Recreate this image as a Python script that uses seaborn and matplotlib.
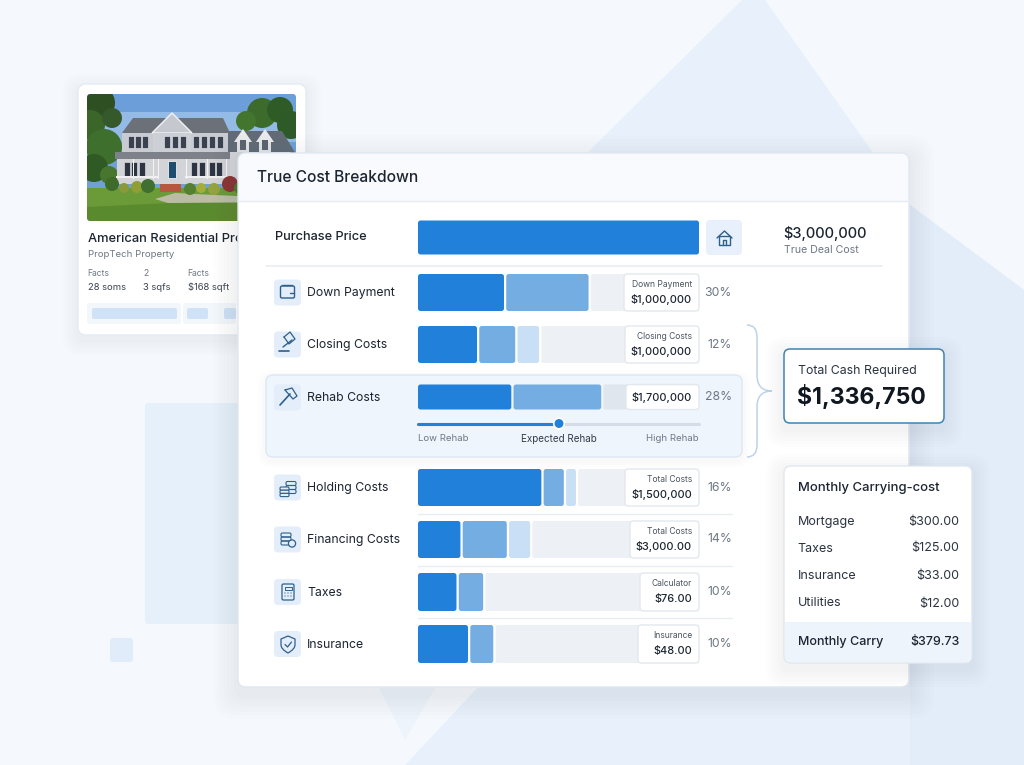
import numpy as np
import matplotlib
matplotlib.use("Agg")
import matplotlib.pyplot as plt
from matplotlib.patches import FancyBboxPatch, Polygon, Circle, Rectangle, PathPatch
from matplotlib.path import Path
import seaborn as sns

# values
categorias = ["Purchase Price", "Down Payment", "Closing Costs", "Rehab Costs",
              "Holding Costs", "Financing Costs", "Taxes", "Insurance"]
seg_oscuro = [100, 30.6, 21, 33.2, 43.9, 15.1, 13.7, 17.8]
seg_medio = [0, 30.1, 13.6, 32, 8, 16.5, 9.5, 9]
seg_claro = [0, 0, 8.5, 0, 4.3, 8.3, 0, 0]
resto = [0, 39.3, 56.9, 34.8, 43.8, 60.1, 76.8, 73.2]
captions = [None, "Down Payment", "Closing Costs", None, "Total Costs", "Total Costs", "Calculator", "Insurance"]
importes = [None, "$1,000,000", "$1,000,000", "$1,700,000", "$1,500,000", "$3,000.00", "$76.00", "$48.00"]
porcentajes = [None, "30%", "12%", "28%", "16%", "14%", "10%", "10%"]
slider_labels = ["Low Rehab", "Expected Rehab", "High Rehab"]
slider_valor = 50
mensual_items = ["Mortgage", "Taxes", "Insurance", "Utilities"]
mensual_valores = ["$300.00", "$125.00", "$33.00", "$12.00"]
hechos_titulo = ["Facts", "2", "Facts"]
hechos_valor = ["28 soms", "3 sqfs", "$168 sqft"]

# layout in pixels
fila_y = [237.5, 292.5, 344.5, 397, 487.5, 539.5, 592, 644]
fila_h = [34, 37, 37, 25, 37, 37, 38, 38]
caja_x = [None, 624, 625, 626, 625, 630, 640, 638]
X0, X1 = 418, 699
ESCALA = (X1 - X0) / 100

AZUL = "#2080da"
MEDIO = "#74ade2"
CLARO = "#c9dff5"
GRIS = "#edf0f4"
TINTA = "#1b2430"
GRIS_TXT = "#6d7784"
ICONO = "#2f5f8c"

sns.set_theme(style="white")
plt.rcParams["font.family"] = ["Inter", "DejaVu Sans"]

fig = plt.figure(figsize=(10.24, 7.65), dpi=100, facecolor="#f5f9fd")


def capa(zorder, pos=(0, 0, 1, 1)):
    a = fig.add_axes(pos, zorder=zorder)
    a.set_xlim(0, 1024)
    a.set_ylim(765, 0)
    a.axis("off")
    a.patch.set_alpha(0)
    return a


def caja(a, x0, y0, x1, y1, fc="white", ec="none", lw=1, r=6, z=2, **kw):
    p = FancyBboxPatch((x0, y0), x1 - x0, y1 - y0, boxstyle=f"round,pad=0,rounding_size={r}",
                       fc=fc, ec=ec, lw=lw, zorder=z, **kw)
    a.add_patch(p)
    return p


def sombra(a, x0, y0, x1, y1, r=8, z=1, dy=5, pasos=6, paso=3):
    # few steps with a neutral colour, very low alpha rounds into a coloured tint
    for s in range(pasos, 0, -1):
        caja(a, x0 - s * paso, y0 - s * paso + dy, x1 + s * paso, y1 + s * paso + dy,
             fc="#5b6b80", r=r + s * 2, z=z, alpha=0.011)


def linea(a, xs, ys, color=ICONO, lw=1.0, z=5):
    a.plot(xs, ys, color=color, lw=lw, zorder=z, solid_capstyle="round", solid_joinstyle="round")


fondo = capa(0)
# background shapes
fondo.add_patch(Polygon([(585, 155), (742, 0), (765, 0), (910, 205), (1024, 290), (1024, 765),
                         (405, 765), (560, 600), (600, 300)], fc="#e8f1fb", ec="none"))
fondo.add_patch(Polygon([(910, 205), (1024, 290), (1024, 765), (910, 765)], fc="#e2edf9", ec="none"))
fondo.add_patch(Polygon([(375, 680), (440, 680), (405, 740)], fc="#edf4fb", ec="none"))
caja(fondo, 145, 403, 260, 624, fc="#e6f0fb", r=3, z=1)
caja(fondo, 110, 638, 133, 662, fc="#e0ecfa", r=3, z=1)

# property card
sombra(fondo, 78, 84, 306, 335, z=2, pasos=5)
caja(fondo, 78, 84, 306, 335, fc="white", ec="#e4ebf3", r=8, z=3)
foto = FancyBboxPatch((87, 94), 209, 127, boxstyle="round,pad=0,rounding_size=4", fc="#6fa0d8", ec="none", zorder=4)
fondo.add_patch(foto)


def f(artist):
    artist.set_clip_path(foto)
    artist.set_zorder(5)
    fondo.add_patch(artist)


f(Rectangle((87, 94), 209, 18, fc="#6c9fd9", ec="none"))
f(Rectangle((87, 112), 209, 30, fc="#93bbe6", ec="none"))
f(Rectangle((87, 188), 209, 33, fc="#6b9a38", ec="none"))
f(Polygon([(87, 221), (87, 207), (170, 203), (296, 200), (296, 221)], fc="#5a8a2e", ec="none"))
f(Polygon([(155, 199), (175, 193), (296, 199), (296, 202), (168, 203)], fc="#bcbca6", ec="none"))
for cx, cy, rad, col in [(262, 113, 15, "#3c6b2c"), (280, 110, 13, "#2f5c26"), (291, 125, 14, "#2d5a27"),
                         (246, 121, 10, "#44752f"), (98, 103, 17, "#2e4f22"), (90, 125, 15, "#3b6629"),
                         (104, 147, 18, "#3e6f2c"), (94, 168, 14, "#2f5a24"), (112, 118, 10, "#35592a"),
                         (109, 175, 9, "#47762f")]:
    f(Circle((cx, cy), rad, fc=col, ec="none"))
f(Polygon([(223, 131), (282, 131), (296, 154), (228, 154)], fc="#626a75", ec="none"))
f(Rectangle((228, 152), 62, 33, fc="#d6d8dc", ec="none"))
f(Polygon([(122, 133), (133, 118), (223, 118), (230, 133)], fc="#6b7079", ec="none"))
f(Rectangle((122, 133), 106, 19, fc="#c8ccd2", ec="none"))
f(Polygon([(152, 133), (172, 113), (192, 133)], fc="#c5c9cf", ec="#f2f2f2", lw=1))
f(Rectangle((153, 133), 38, 19, fc="#ccd0d6", ec="none"))
f(Rectangle((115, 152), 115, 7, fc="#7d828a", ec="none"))
f(Rectangle((117, 159), 113, 25, fc="#d2d4d8", ec="none"))
for wx in [128, 135, 142, 164, 172, 180, 193, 201, 209, 217]:
    f(Rectangle((wx, 136), 5.5, 12, fc="#3a4252", ec="#f0f0f0", lw=0.4))
for wx in [124, 131, 139, 191, 199, 209, 216]:
    f(Rectangle((wx, 162), 6, 14, fc="#2d3442", ec="#f0f0f0", lw=0.4))
f(Rectangle((168, 161), 8, 17, fc="#1f4d70", ec="#f0f0f0", lw=0.6))
for colx in [133, 153, 158, 186, 207, 226]:
    f(Rectangle((colx, 159), 1.4, 20, fc="#f4f4f4", ec="none"))
f(Rectangle((116, 176), 43, 1.6, fc="#f0f0f0", ec="none"))
f(Rectangle((185, 176), 44, 1.6, fc="#f0f0f0", ec="none"))
for dx in [243, 265]:
    f(Polygon([(dx - 9, 142), (dx, 129), (dx + 9, 142)], fc="#e9eaec", ec="none"))
    f(Rectangle((dx - 6, 142), 12, 10, fc="#e4e5e7", ec="none"))
    f(Rectangle((dx - 3, 140), 6, 10, fc="#5a6270", ec="none"))
f(Rectangle((160, 184), 21, 8, fc="#b5583f", ec="none"))
for sx, sy, sr, col in [(112, 184, 7, "#3e6a2a"), (124, 188, 5, "#8a9a3a"), (137, 187, 6, "#8f9f33"),
                        (148, 186, 7, "#3f7030"), (190, 189, 6, "#55802f"), (201, 188, 5, "#a4ad3a"),
                        (214, 189, 6, "#94a33c"), (230, 184, 8, "#8a3434"), (240, 188, 6, "#4a7a30")]:
    f(Circle((sx, sy), sr, fc=col, ec="none"))

fondo.text(87.5, 238.5, "American Residential Property", fontsize=9.3, fontweight="medium", color=TINTA, va="center", zorder=5)
fondo.text(87.5, 254.5, "PropTech Property", fontsize=6.9, color=GRIS_TXT, va="center", zorder=5)
for hx, ht, hv in zip([87.5, 143, 187.5], hechos_titulo, hechos_valor):
    fondo.text(hx, 273, ht, fontsize=6.2, color=GRIS_TXT, va="center", zorder=5)
    fondo.text(hx, 287.5, hv, fontsize=6.8, color="#39424e", va="center", zorder=5)
caja(fondo, 87, 303, 181, 324, fc="#f2f7fc", r=3, z=4)
caja(fondo, 92, 308, 177, 319, fc="#cfe2f6", r=2, z=5)
caja(fondo, 183, 303, 236, 324, fc="#f2f7fc", r=3, z=4)
caja(fondo, 187, 308, 208, 319, fc="#cfe2f6", r=2, z=5)
caja(fondo, 224, 308, 236, 319, fc="#cfe2f6", r=2, z=5)

# main card
sombra(fondo, 238, 153, 909, 687, r=8, z=6, dy=7, pasos=7, paso=3.5)
caja(fondo, 238, 153, 909, 687, fc="white", ec="#dfe7f0", r=8, z=7)
caja(fondo, 239, 154, 908, 201, fc="#f8fafd", r=7, z=7)
fondo.add_patch(Rectangle((239, 192), 669, 9, fc="#f8fafd", ec="none", zorder=7))
linea(fondo, [238, 909], [201, 201], color="#e6ecf2", lw=1, z=8)
fondo.text(257, 177, "True Cost Breakdown", fontsize=11.2, fontweight="medium", color=TINTA, va="center", zorder=9)
linea(fondo, [266, 882], [266, 266], color="#e9edf2", lw=1.2, z=8)
for yy in [513.5, 566, 618]:
    linea(fondo, [418, 732], [yy, yy], color="#e9edf2", lw=1, z=8)

# highlighted rehab row
sombra(fondo, 266, 375, 742, 457, r=8, z=8, dy=3, pasos=3, paso=2.5)
caja(fondo, 266, 375, 742, 457, fc="#eef5fc", ec="#dce8f3", lw=1, r=7, z=9)

# bars
ax_bars = fig.add_axes((X0 / 1024, 0, (X1 - X0) / 1024, 1), zorder=2)
ax_bars.patch.set_alpha(0)
previo = np.zeros(len(categorias))
capas = [(seg_oscuro, AZUL), (seg_medio, MEDIO), (seg_claro, CLARO), (resto, GRIS)]
for valores, color in capas:
    acum = previo + np.array(valores)
    n = len(ax_bars.patches)
    sns.barplot(x=acum, y=fila_y, orient="y", native_scale=True, color=color, saturation=1, ax=ax_bars)
    nuevos = sorted(ax_bars.patches[n:], key=lambda b: b.get_y())
    for i, b in enumerate(nuevos):
        ini, fin = previo[i], b.get_width()
        b.remove()
        if fin - ini <= 0:
            continue
        hueco = 0.8 if ini > 0 else 0
        c = 0.9 if color != GRIS else 0.7
        # grey track sits darker on the tinted rehab row
        tono = "#dfe6ed" if (color == GRIS and i == 3) else color
        ax_bars.add_patch(FancyBboxPatch(
            (ini + hueco, fila_y[i] - fila_h[i] / 2), fin - ini - hueco, fila_h[i],
            boxstyle=f"round,pad=0,rounding_size={c}", mutation_aspect=ESCALA,
            fc=tono, ec="none", zorder=3))
    previo = acum
ax_bars.set_xlim(0, 100)
ax_bars.set_ylim(765, 0)
ax_bars.axis("off")

# everything on top of the bars
top = capa(3)
top.text(275, 236.5, categorias[0], fontsize=9.2, fontweight="medium", color=TINTA, va="center")

for i, cat in enumerate(categorias):
    if i == 0:
        continue
    yc = fila_y[i] if i != 3 else 397.5
    caja(top, 274, yc - 13, 301, yc + 13, fc="#e3eefa", r=4, z=2)
    top.text(307, yc + 0.5, cat, fontsize=8.8, color=TINTA, va="center")
    h = fila_h[i]
    caja(top, caja_x[i], fila_y[i] - h / 2, X1, fila_y[i] + h / 2, fc="white", ec="#e3e8ee", lw=1, r=3.5, z=3)
    if captions[i]:
        top.text(692, fila_y[i] - 8, captions[i], fontsize=6.1, color="#4a5461", ha="right", va="center", zorder=4)
        top.text(692, fila_y[i] + 7, importes[i], fontsize=7.9, fontweight="medium", color=TINTA, ha="right", va="center", zorder=4)
    else:
        top.text(692, fila_y[i], importes[i], fontsize=7.9, fontweight="medium", color=TINTA, ha="right", va="center", zorder=4)
    top.text(732, fila_y[i], porcentajes[i], fontsize=8.8, color=GRIS_TXT, ha="right", va="center", zorder=4)

# purchase row extras
caja(top, 706, 220, 742, 255, fc="#e8f1fb", r=4, z=2)
linea(top, [717, 724.5, 732], [238, 231, 238])
linea(top, [719, 719, 730, 730, 719], [236, 245, 245, 236, 236])
linea(top, [723, 723, 726, 726], [245, 240, 240, 245])
top.text(825, 233.5, "$3,000,000", fontsize=10.5, fontweight="medium", color=TINTA, ha="center", va="center")
top.text(821, 249.5, "True Deal Cost", fontsize=7.6, color=GRIS_TXT, ha="center", va="center")

# slider
sl_x = X0 + slider_valor * ESCALA
linea(top, [X0, X1], [424, 424], color="#d4dde7", lw=2.2, z=2)
linea(top, [X0, sl_x], [424, 424], color=AZUL, lw=2.2, z=3)
top.add_patch(Circle((sl_x + 0.5, 423.5), 5.3, fc=AZUL, ec="white", lw=1.2, zorder=4))
top.text(X0, 438.5, slider_labels[0], fontsize=6.9, color=GRIS_TXT, va="center")
top.text(sl_x + 0.5, 438.5, slider_labels[1], fontsize=7.1, color="#333c47", ha="center", va="center")
top.text(X1, 438.5, slider_labels[2], fontsize=6.9, color=GRIS_TXT, ha="right", va="center")

# small icons
caja(top, 280.5, 286, 294.5, 298, fc="none", ec=ICONO, lw=1, r=1.5, z=5)  # wallet
linea(top, [282, 292], [285, 285])
linea(top, [290, 294], [292.5, 292.5])
linea(top, [279, 289], [351, 351], lw=1.2)  # gavel
linea(top, [283, 292], [347, 340], lw=1.0)
linea(top, [284, 290, 295, 289, 284], [337, 332, 339, 344, 337], lw=0.9)
linea(top, [280, 290], [405, 394], lw=1.2)  # hammer
linea(top, [285, 292, 297, 293, 285], [390, 388, 396, 399, 390], lw=0.9)
for k in range(3):  # coins
    caja(top, 286, 481.5 + k * 4, 296, 485.5 + k * 4, fc="none", ec=ICONO, lw=0.8, r=1.5, z=5)
    caja(top, 280, 487 + k * 3.2, 289, 490.2 + k * 3.2, fc="#e3eefa", ec=ICONO, lw=0.8, r=1.2, z=6)
for k in range(3):  # database with coin
    caja(top, 281, 533 + k * 4, 291, 537 + k * 4, fc="none", ec=ICONO, lw=0.8, r=1.5, z=5)
top.add_patch(Circle((292, 543.5), 3.6, fc="#e3eefa", ec=ICONO, lw=0.9, zorder=6))
caja(top, 282, 584, 294, 600, fc="none", ec=ICONO, lw=0.9, r=1.5, z=5)  # calculator
top.add_patch(Rectangle((284.5, 587), 7, 3, fc="none", ec=ICONO, lw=0.7, zorder=5))
for cx in [285, 288, 291]:
    for cy in [593, 596]:
        top.add_patch(Circle((cx, cy), 0.6, fc=ICONO, ec="none", zorder=5))
verts = [(288, 636), (295, 639), (295, 645), (295, 649), (288, 653), (288, 653), (281, 649), (281, 645), (281, 639), (288, 636)]
codes = [Path.MOVETO, Path.LINETO, Path.LINETO, Path.CURVE3, Path.CURVE3, Path.LINETO, Path.CURVE3, Path.CURVE3, Path.LINETO, Path.LINETO]
top.add_patch(PathPatch(Path(verts, codes), fc="none", ec=ICONO, lw=0.9, zorder=5))  # shield
linea(top, [285, 287.5, 291.5], [644.5, 647, 642], lw=0.9)

# bracket to total cash
llave = Path([(747, 325), (757, 325), (757, 337), (757, 375), (757, 391), (772, 391),
              (757, 391), (757, 407), (757, 445), (757, 457), (747, 457)],
             [Path.MOVETO, Path.CURVE3, Path.CURVE3, Path.LINETO, Path.CURVE3, Path.CURVE3,
              Path.CURVE3, Path.CURVE3, Path.LINETO, Path.CURVE3, Path.CURVE3])
top.add_patch(PathPatch(llave, fc="none", ec="#bcd3e8", lw=1.1, zorder=2))

# total cash card
sombra(top, 784, 349, 944, 423, r=7, z=5, dy=6, pasos=6)
caja(top, 784, 349, 944, 423, fc="white", ec="#3f83b5", lw=1.1, r=6, z=6)
top.text(797.5, 370.5, "Total Cash Required", fontsize=8.9, color="#2a3340", va="center", zorder=7)
top.text(797.5, 396.5, "$1,336,750", fontsize=16.6, fontweight="bold", color="#101720", va="center", zorder=7)

# monthly card
sombra(top, 784, 466, 972, 663, r=7, z=5, dy=6, pasos=6)
caja(top, 784, 466, 972, 663, fc="white", ec="#e0e7ef", r=7, z=6)
caja(top, 785, 622, 971, 662, fc="#edf4fb", r=6, z=6)
top.add_patch(Rectangle((785, 622), 186, 10, fc="#edf4fb", ec="none", zorder=6))
top.text(797.5, 488, "Monthly Carrying-cost", fontsize=9.4, fontweight="medium", color=TINTA, va="center", zorder=7)
for yy, et, val in zip([521.5, 548.5, 576, 603.5], mensual_items, mensual_valores):
    top.text(797.5, yy, et, fontsize=9, color="#2a3340", va="center", zorder=7)
    top.text(959.5, yy, val, fontsize=9, color="#2a3340", ha="right", va="center", zorder=7)
top.text(797.5, 642.5, "Monthly Carry", fontsize=9, fontweight="medium", color=TINTA, va="center", zorder=7)
top.text(959.5, 642.5, "$379.73", fontsize=9, fontweight="medium", color=TINTA, ha="right", va="center", zorder=7)

plt.savefig("out.png", dpi=100, facecolor=fig.get_facecolor())
